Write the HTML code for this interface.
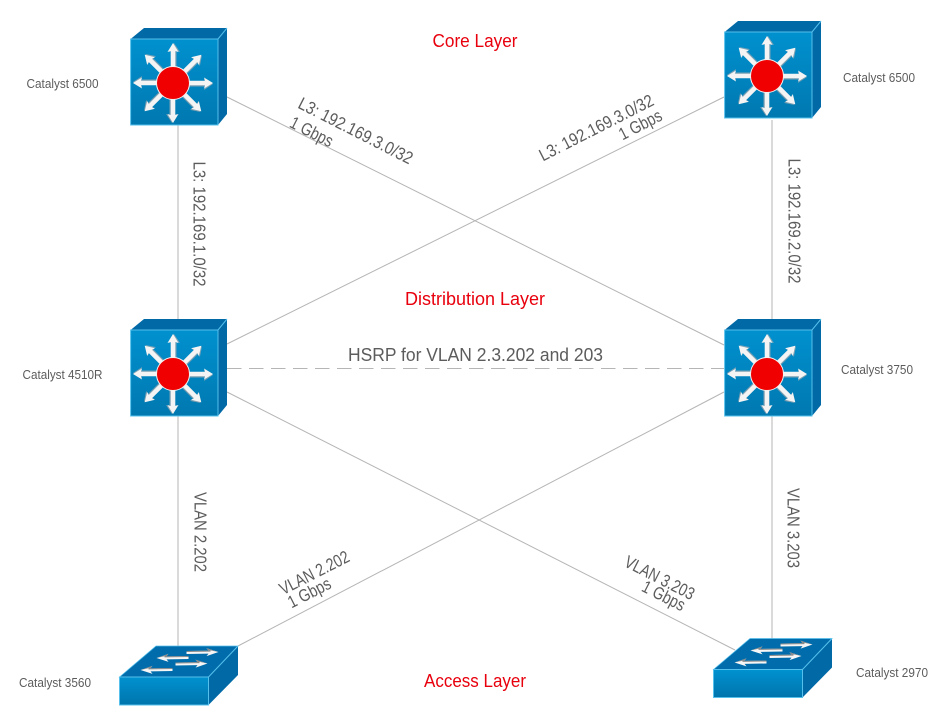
<!DOCTYPE html>
<html><head><meta charset="utf-8"><style>
html,body{margin:0;padding:0;background:#fff}
svg{display:block}
text{font-family:"Liberation Sans",sans-serif;fill:#5c5c5c}
.s{font-size:12.5px}.m{font-size:17.5px}.r{font-size:18px;fill:#e8000d}
</style></head><body>
<svg width="948" height="725" viewBox="0 0 948 725" xmlns="http://www.w3.org/2000/svg" xmlns:xlink="http://www.w3.org/1999/xlink">
<defs>
<linearGradient id="f" x1="0" y1="0" x2="0" y2="1"><stop offset="0" stop-color="#0091cf"/><stop offset="1" stop-color="#0078b0"/></linearGradient>
<linearGradient id="sf" x1="0" y1="0" x2="0" y2="1"><stop offset="0" stop-color="#0092d0"/><stop offset="1" stop-color="#0074ac"/></linearGradient>
<g id="a">
<path d="M-1,-16V-32L-4,-31L1,-40L7,-31L3.500,-32V-16Z" fill="#9aa8b0" opacity=".8"/>
<path d="M-2.300,-16V-32L-5.500,-31L0,-40L5.500,-31L2.300,-32V-16Z" fill="#f4f4f4"/>
</g>
<g id="router">
<path d="M0.6,11L14,0H97L88,11Z" fill="#0069a6"/>
<path d="M88,11L97,0V86L88,97Z" fill="#0069a6"/>
<rect x="0.6" y="11" width="87.4" height="86" fill="url(#f)" stroke="#55c0ec" stroke-width="1"/>
<path d="M88,11L97,0" stroke="#55c0ec" stroke-width="1"/>
<g transform="translate(43,55)">
<use xlink:href="#a"/><use xlink:href="#a" transform="rotate(45)"/><use xlink:href="#a" transform="rotate(90)"/><use xlink:href="#a" transform="rotate(135)"/><use xlink:href="#a" transform="rotate(180)"/><use xlink:href="#a" transform="rotate(225)"/><use xlink:href="#a" transform="rotate(270)"/><use xlink:href="#a" transform="rotate(315)"/>
<circle r="16.5" fill="#f00000" stroke="#f2f2f2" stroke-width="1"/>
</g>
</g>
<g id="sa"><path d="M0,-1.500H22L20,-4L32,0L20,4L22,1.500H0Z" fill="#f6f6f6"/><path d="M0,-1.500H22L20,-4L32,0L24,-1.700V-.5H0Z" fill="#666" opacity=".75"/></g>
<g id="sb"><path d="M0,-1.500H22L20,-4L32,0L20,4L22,1.500H0Z" fill="#f6f6f6"/><path d="M0,1.500H22L20,4L32,0L24,1.700V.5H0Z" fill="#666" opacity=".75"/></g>
<g id="switch">
<path d="M0,31L36.500,0H118.500L89,31Z" fill="#006cab" stroke="#55c0ec" stroke-width=".7"/>
<path d="M89,31L118.500,0V29L89,59Z" fill="#0069a6"/>
<rect x="0" y="31" width="89" height="28" fill="url(#sf)" stroke="#55c0ec" stroke-width="1"/>
<path d="M89,31L118.500,0" stroke="#55c0ec" stroke-width="1"/>
<use xlink:href="#sa" transform="translate(67,6.500) rotate(-1)"/>
<use xlink:href="#sb" transform="translate(69,11.500) rotate(179)"/>
<use xlink:href="#sa" transform="translate(56,18) rotate(-1)"/>
<use xlink:href="#sb" transform="translate(53,23.500) rotate(179)"/>
</g>
</defs>
<g stroke="#b5b5b5" stroke-width="1" fill="none">
<path d="M178,125V330"/>
<path d="M772,120V330"/>
<path d="M178,416V646"/>
<path d="M772,416V639"/>
<path d="M227,97L724,345"/>
<path d="M724,97L227,344"/>
<path d="M227,392L735,650"/>
<path d="M724,392L238,646"/>
<path d="M227,368.500H724" stroke-dasharray="14.500 7.500"/>
</g>
<use xlink:href="#router" x="130" y="28"/>
<use xlink:href="#router" x="724" y="21"/>
<use xlink:href="#router" x="130" y="319"/>
<use xlink:href="#router" x="724" y="319"/>
<use xlink:href="#switch" x="119.500" y="646"/>
<use xlink:href="#switch" x="713.500" y="638.500"/>
<g>
<text class="r" x="475" y="47" text-anchor="middle" textLength="85" lengthAdjust="spacingAndGlyphs">Core Layer</text>
<text class="r" x="475" y="305" text-anchor="middle" textLength="140" lengthAdjust="spacingAndGlyphs">Distribution Layer</text>
<text class="r" x="475" y="687" text-anchor="middle" textLength="102" lengthAdjust="spacingAndGlyphs">Access Layer</text>
<text x="475.500" y="361" text-anchor="middle" style="font-size:18px" textLength="255" lengthAdjust="spacingAndGlyphs">HSRP for VLAN 2.3.202 and 203</text>
<text class="s" x="62.500" y="88" text-anchor="middle" textLength="72" lengthAdjust="spacingAndGlyphs">Catalyst 6500</text>
<text class="s" x="879" y="82" text-anchor="middle" textLength="72" lengthAdjust="spacingAndGlyphs">Catalyst 6500</text>
<text class="s" x="62.500" y="379" text-anchor="middle" textLength="80" lengthAdjust="spacingAndGlyphs">Catalyst 4510R</text>
<text class="s" x="877" y="374" text-anchor="middle" textLength="72" lengthAdjust="spacingAndGlyphs">Catalyst 3750</text>
<text class="s" x="55" y="687" text-anchor="middle" textLength="72" lengthAdjust="spacingAndGlyphs">Catalyst 3560</text>
<text class="s" x="892" y="677" text-anchor="middle" textLength="72" lengthAdjust="spacingAndGlyphs">Catalyst 2970</text>
<text class="m" transform="translate(193.500,224) rotate(90)" text-anchor="middle" textLength="125" lengthAdjust="spacingAndGlyphs">L3: 192.169.1.0/32</text>
<text class="m" transform="translate(788.500,221) rotate(90)" text-anchor="middle" textLength="125" lengthAdjust="spacingAndGlyphs">L3: 192.169.2.0/32</text>
<text class="m" transform="translate(194.500,532) rotate(90)" text-anchor="middle" textLength="80" lengthAdjust="spacingAndGlyphs">VLAN 2.202</text>
<text class="m" transform="translate(787.500,528) rotate(90)" text-anchor="middle" textLength="80" lengthAdjust="spacingAndGlyphs">VLAN 3.203</text>
<text class="m" transform="translate(353,136) rotate(27)" text-anchor="middle" textLength="126" lengthAdjust="spacingAndGlyphs">L3: 192.169.3.0/32</text>
<text class="m" transform="translate(309,137) rotate(27)" text-anchor="middle" textLength="46" lengthAdjust="spacingAndGlyphs">1 Gbps</text>
<text class="m" transform="translate(599,133) rotate(-27)" text-anchor="middle" textLength="126" lengthAdjust="spacingAndGlyphs">L3: 192.169.3.0/32</text>
<text class="m" transform="translate(643,130) rotate(-27)" text-anchor="middle" textLength="46" lengthAdjust="spacingAndGlyphs">1 Gbps</text>
<text class="m" transform="translate(317,578) rotate(-27)" text-anchor="middle" textLength="76" lengthAdjust="spacingAndGlyphs">VLAN 2.202</text>
<text class="m" transform="translate(312,598) rotate(-27)" text-anchor="middle" textLength="46" lengthAdjust="spacingAndGlyphs">1 Gbps</text>
<text class="m" transform="translate(657,583) rotate(27)" text-anchor="middle" textLength="76" lengthAdjust="spacingAndGlyphs">VLAN 3.203</text>
<text class="m" transform="translate(661,601) rotate(27)" text-anchor="middle" textLength="46" lengthAdjust="spacingAndGlyphs">1 Gbps</text>
</g>
</svg>
</body></html>
